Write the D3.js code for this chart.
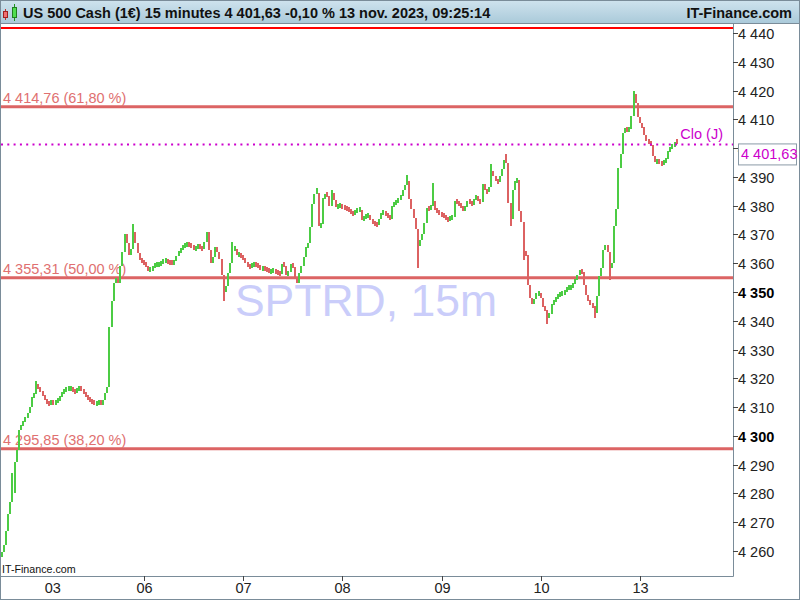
<!DOCTYPE html>
<html><head><meta charset="utf-8">
<script src="https://cdn.jsdelivr.net/npm/d3@7"></script>
<style>
html,body{margin:0;padding:0;background:#fff;}
svg{display:block;font-family:"Liberation Sans",Arial,sans-serif;}
</style></head>
<body>
<svg id="chart" width="800" height="600"></svg>
<script>
// ---------- DATA ----------
const title = "US 500 Cash (1€) 15 minutes 4 401,63 -0,10 % 13 nov. 2023, 09:25:14";
const brand = "IT-Finance.com";
const watermark = "SPTRD, 15m";
const days = ["02","03","06","07","08","09","10","13"];
const barsPerDay = 46;      // 30-minute bars per trading day
const firstBar = 26;        // first visible bar inside first day
const yTicks = [4260,4270,4280,4290,4300,4310,4320,4330,4340,4350,4360,4370,4380,4390,4400,4410,4420,4430,4440];
const fibValues = [4414.76, 4355.31, 4295.85];
const fibLabels = ["4 414,76 (61,80 %)", "4 355,31 (50,00 %)", "4 295,85 (38,20 %)"];
const topLevel = 4441.7;
const lastPrice = 4401.63;
const lastLabel = "4 401,63";
const closeLabel = "Clo (J)";
const firstOpen = 4258;
const closes = [
4259.7,4262,4267,4273,4277,4280,4291,4295,4302,4303.5,4305,4306.5,4308,4310,4313.5,4314.5,4317.5,4317,4315.5,4314,
4312.5,4311.5,4311,4312,4311.5,4312,4312.5,4313.5,4315,4315.8,4316.3,4316.5,4316.5,4315.8,4315.3,4316,4316.7,4316,4315,4314,
4313,4312.3,4311.5,4311.4,4311.4,4312,4311,4312.5,4314.9,4317,4338,4347,4353,4355,4353,4359,4364,4370,4367,4363,
4365,4371,4367,4363.5,4361,4360.6,4360,4359,4357.5,4357.8,4358.7,4359.4,4359.4,4359.8,4360.3,4360.7,4361,4360.4,4360.2,4360,
4360.8,4362.5,4364,4365,4365.8,4366.3,4366.8,4366.5,4365.7,4365,4365.3,4366.3,4365.3,4365,4367.5,4370.8,4364.6,4360,4362,4365.6,
4364,4361.3,4356,4350,4352,4356.5,4360,4365,4365,4362.9,4362.9,4362.5,4361.5,4360.2,4359.2,4358.7,4359.6,4359.8,4359.4,4358.8,
4358.3,4358.3,4358,4357.6,4357.1,4357.3,4357.4,4356.9,4356.4,4356.2,4359.6,4359.2,4355.8,4357,4359.6,4358.6,4355,4353,4356.7,4359,
4362,4365.5,4367,4372.5,4380.5,4384,4384.4,4373,4373.5,4382.5,4384,4383.5,4379.8,4384.4,4382,4379.5,4380,4380,4379.6,4379.3,
4379,4378.1,4377.6,4377,4378,4378.5,4378.5,4375,4375.8,4376.4,4376.5,4375.3,4374,4373.6,4373.3,4375.2,4377.5,4377.6,4377.1,4376.4,
4375.5,4379.8,4381.1,4381.3,4382.6,4383.2,4385.5,4387.3,4388.5,4382.4,4378.8,4375.7,4372,4366,4368,4370,4374,4379.2,4378.7,4380,
4381.5,4378.5,4378,4377,4376.8,4376.3,4375.4,4375.3,4375.8,4376,4381.7,4381.3,4380.5,4379.4,4378.8,4379.5,4381.6,4381.3,4380.4,4382.4,
4383,4381.8,4381.2,4387.5,4385.3,4384.8,4386.4,4392.2,4390.4,4388.6,4388.2,4390.2,4392.8,4395.8,4395,4381,4375.3,4385.4,4388.4,4389,
4378,4374.3,4364,4363,4352.5,4348,4345.8,4347.6,4349.5,4349.5,4348,4344.8,4343.6,4341.8,4342.2,4346,4346.7,4347.9,4349,4349.2,
4349.5,4350.5,4351.4,4351.4,4351.5,4353.2,4354.3,4356,4357.6,4356.8,4352.3,4349,4347,4345.8,4345,4342.7,4348.5,4355.5,4358.4,4364.5,
4366.3,4363.8,4358.4,4360,4373,4378.8,4393,4398,4405.3,4407,4406,4406.8,4411.3,4418.7,4415.8,4410.7,4408.6,4407.2,4404.5,4402.4,
4402.3,4401.2,4397.3,4395.2,4395.5,4395.3,4394.8,4395.5,4396.2,4398.9,4400.1,4400.8,4401.7,4401.63
];
// notable wick extremes: [bar index, value]
const wickHighs = [[5,4287],[16,4319],[61,4373.5],[107,4367.5],[146,4386],[153,4385.6],[188,4390.5],[200,4388],[227,4394.5],[234,4397.8],[293,4420],[313,4402.8]];
const wickLows = [[103,4347],[193,4358.5],[236,4373],[242,4361],[253,4339],[275,4341],[282,4354],[306,4394]];

// ---------- CHART ----------
const W = 800, H = 600;
const plot = {left: 1, right: 733, top: 25, bottom: 576};
const svg = d3.select("#chart");

const x = d3.scaleLinear().domain([0, days.length * barsPerDay]).range([-54.4, -54.4 + days.length * 99.2]);
const y = d3.scaleLinear().domain([4260, 4440]).range([551, 33]);

const green = "#4ccc44", red = "#dc6262", fibColor = "#dc6464", magenta = "#cc00cc", frame = "#7a8c99";

// background
svg.append("rect").attr("width", W).attr("height", H).attr("fill", "#fff");

// header
const grad = svg.append("defs").append("linearGradient").attr("id","hdr").attr("x1",0).attr("x2",0).attr("y1",0).attr("y2",1);
grad.append("stop").attr("offset","0%").attr("stop-color","#cfe3ee");
grad.append("stop").attr("offset","100%").attr("stop-color","#a9c9d9");
svg.append("rect").attr("x",0).attr("y",0).attr("width",W).attr("height",24).attr("fill","url(#hdr)");
svg.append("line").attr("x1",0).attr("x2",W).attr("y1",23.5).attr("y2",23.5).attr("stroke",frame);
// icon
const icon = svg.append("g");
icon.append("line").attr("x1",5.5).attr("x2",5.5).attr("y1",9).attr("y2",20).attr("stroke","#c03030");
icon.append("rect").attr("x",3.5).attr("y",11.5).attr("width",4).attr("height",6).attr("fill","#f07070").attr("stroke","#a02020");
icon.append("line").attr("x1",14.5).attr("x2",14.5).attr("y1",4).attr("y2",21).attr("stroke","#209020");
icon.append("rect").attr("x",12.5).attr("y",7.5).attr("width",4).attr("height",10).attr("fill","#50dd50").attr("stroke","#208020");

svg.append("text").attr("x",23).attr("y",18).attr("font-size","14.5px").attr("font-weight","bold").attr("fill","#111").text(title);
svg.append("text").attr("x",792).attr("y",18).attr("text-anchor","end").attr("font-size","14.5px").attr("font-weight","bold").attr("fill","#111").text(brand);

// clip
svg.append("clipPath").attr("id","clip").append("rect")
  .attr("x",plot.left).attr("y",plot.top).attr("width",plot.right-plot.left).attr("height",plot.bottom-plot.top);
const g = svg.append("g").attr("clip-path","url(#clip)");

// watermark
g.append("text").attr("x",366).attr("y",316).attr("text-anchor","middle")
  .attr("font-size","44.5px").attr("fill","#cacdfa").text(watermark);

// top red level
g.append("line").attr("x1",plot.left).attr("x2",plot.right).attr("y1",y(topLevel)).attr("y2",y(topLevel))
  .attr("stroke","#ff0000").attr("stroke-width",2);

// fib levels
fibValues.forEach((v,i) => {
  g.append("line").attr("x1",plot.left).attr("x2",plot.right).attr("y1",y(v)+1).attr("y2",y(v)+1)
    .attr("stroke",fibColor).attr("stroke-width",3);
  g.append("text").attr("x",3).attr("y",y(v)-3).attr("font-size","14.5px").attr("fill","#e07070").text(fibLabels[i]);
});

// bars
const bars = closes.map((c,i) => {
  const open = i === 0 ? firstOpen : closes[i-1];
  let hi = Math.max(open,c), lo = Math.min(open,c);
  wickHighs.forEach(w => { if (w[0] === i) hi = Math.max(hi, w[1]); });
  wickLows.forEach(w => { if (w[0] === i) lo = Math.min(lo, w[1]); });
  return {i, open, close:c, hi, lo};
});
const minH = 5;
g.selectAll("rect.bar").data(bars).enter().append("rect").attr("class","bar")
  .attr("x", d => Math.round(x(firstBar + d.i)) - 1)
  .attr("width", 2)
  .attr("y", d => Math.min(y(d.hi), (y(d.hi)+y(d.lo))/2 - minH/2))
  .attr("height", d => Math.max(y(d.lo) - y(d.hi), minH))
  .attr("fill", d => d.close >= d.open ? green : red)
  .attr("shape-rendering","crispEdges");

// last price dotted line
g.append("line").attr("x1",plot.left).attr("x2",plot.right).attr("y1",y(lastPrice)+1).attr("y2",y(lastPrice)+1)
  .attr("stroke",magenta).attr("stroke-width",2).attr("stroke-dasharray","2,4.3");
g.append("text").attr("x",723).attr("y",y(lastPrice)-4).attr("text-anchor","end")
  .attr("font-size","14.5px").attr("fill",magenta).text(closeLabel);

// frame & axes
svg.append("rect").attr("x",0.5).attr("y",0.5).attr("width",W-1).attr("height",H-1).attr("fill","none").attr("stroke",frame);
svg.append("line").attr("x1",plot.right+0.5).attr("x2",plot.right+0.5).attr("y1",24).attr("y2",plot.bottom+0.5).attr("stroke",frame);
svg.append("line").attr("x1",0).attr("x2",plot.right+0.5).attr("y1",plot.bottom+0.5).attr("y2",plot.bottom+0.5).attr("stroke",frame);
svg.append("line").attr("x1",0.5).attr("x2",0.5).attr("y1",24).attr("y2",H).attr("stroke",frame);

// y axis
const yAxis = svg.append("g");
yTicks.forEach(t => {
  const yy = Math.round(y(t)) + 0.5;
  yAxis.append("line").attr("x1",plot.right).attr("x2",plot.right+5).attr("y1",yy).attr("y2",yy).attr("stroke","#444");
  yAxis.append("text").attr("x",plot.right+5).attr("y",yy).attr("dy","0.35em")
    .attr("font-size","14.5px").attr("font-weight", t % 50 === 0 ? "bold" : "normal")
    .attr("fill", t % 50 === 0 ? "#000" : "#222")
    .text(d3.format(",")(t).replace(",", " "));
});

// last price box (covers the 4 400 tick label, as in the original)
const by = y(lastPrice) + 0.5;
svg.append("rect").attr("x",738.5).attr("y",by).attr("width",58).attr("height",21)
  .attr("fill","#fff").attr("stroke","#8a9aa6");
svg.append("text").attr("x",741).attr("y",by+10.5).attr("dy","0.35em").attr("font-size","14.5px")
  .attr("fill",magenta).text(lastLabel);

// x axis
const xAxis = svg.append("g");
days.forEach((d,k) => {
  if (k === 0) return;
  const xx = x(k * barsPerDay);
  if (k === 1) {
    xAxis.append("text").attr("x",xx).attr("y",593).attr("font-size","14.5px").attr("fill","#222").text(d);
    return;
  }
  const px = Math.round(xx) + 0.5;
  xAxis.append("line").attr("x1",px).attr("x2",px).attr("y1",plot.bottom).attr("y2",plot.bottom+5).attr("stroke","#444");
  xAxis.append("text").attr("x",px).attr("y",593).attr("text-anchor","middle").attr("font-size","14.5px").attr("fill","#222").text(d);
});

// brand bottom-left
svg.append("text").attr("x",2).attr("y",573).attr("font-size","10.7px").attr("fill","#111").text(brand);
</script>
</body></html>
